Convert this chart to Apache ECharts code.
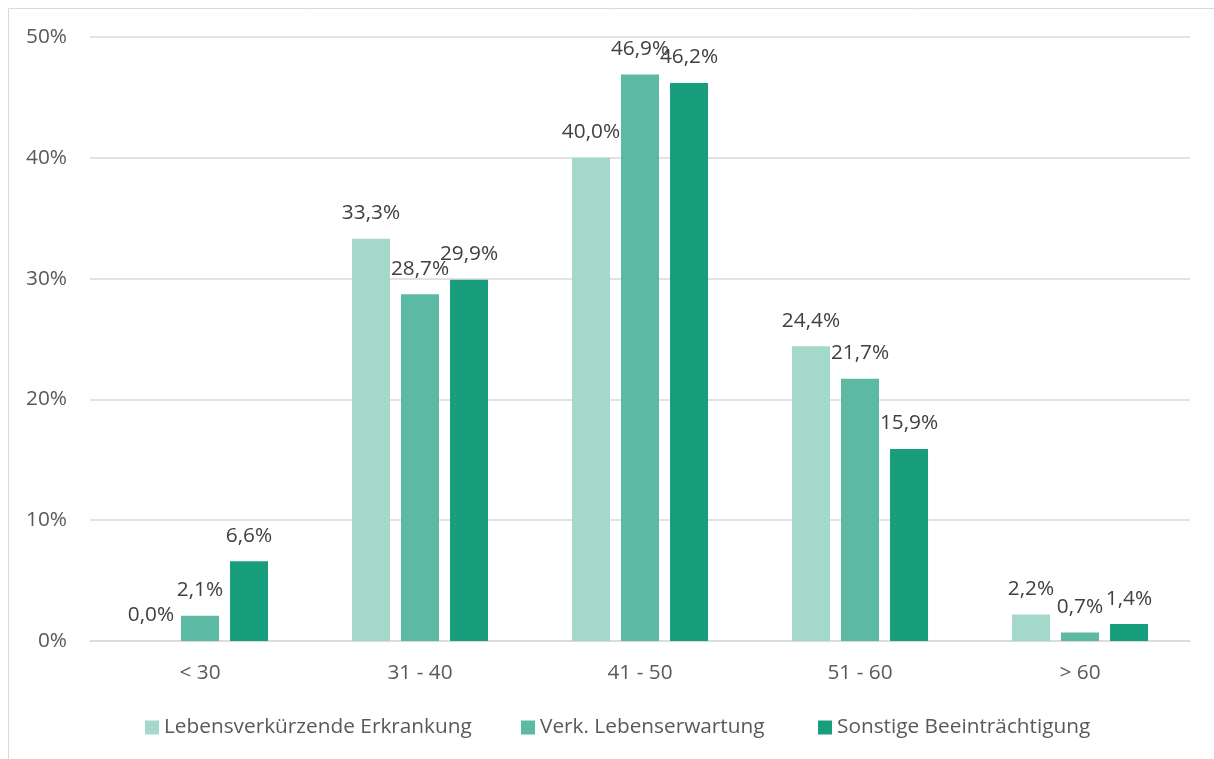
<!DOCTYPE html>
<html>
<head>
<meta charset="utf-8">
<script src="https://cdn.jsdelivr.net/npm/echarts@6/dist/echarts.min.js"></script>
<style>html,body{margin:0;padding:0;background:#fff}#c{width:1214px;height:759px}</style>
</head>
<body>
<div id="c"></div>
<script>
var categories = ['< 30', '31 - 40', '41 - 50', '51 - 60', '> 60'];
var seriesNames = ['Lebensverkürzende Erkrankung', 'Verk. Lebenserwartung', 'Sonstige Beeinträchtigung'];
var lebensverkuerzend = [0.0, 33.3, 40.0, 24.4, 2.2];
var verkLebenserwartung = [2.1, 28.7, 46.9, 21.7, 0.7];
var sonstige = [6.6, 29.9, 46.2, 15.9, 1.4];
var colors = ['#A3D8CB', '#5CB9A3', '#189E7D'];
var legendLeft = [145, 521, 818];
var FONT = 'Open Sans';
var FS = 20.8;

function mk(name, data, color) {
  return {
    name: name, type: 'bar', data: data, barWidth: 38, barGap: '29%',
    itemStyle: { color: color },
    label: {
      show: true, position: 'top', distance: 15,
      fontFamily: FONT, fontSize: FS, color: '#404040',
      formatter: function (p) { return p.value.toFixed(1).replace('.', ',') + '%'; }
    }
  };
}

var legends = seriesNames.map(function (n, i) {
  return {
    top: 717, left: legendLeft[i], itemWidth: 14, itemHeight: 14,
    icon: 'rect', padding: 0,
    textStyle: { fontFamily: FONT, fontSize: FS, color: '#595959' },
    data: [n]
  };
});

var chart = echarts.init(document.getElementById('c'), null, { renderer: 'canvas' });
chart.setOption({
  animation: false,
  textStyle: { fontFamily: FONT },
  graphic: [{
    type: 'rect', shape: { x: 8.5, y: 8.5, width: 1230, height: 800 },
    style: { fill: 'none', stroke: '#D9D9D9', lineWidth: 1 }, silent: true
  }],
  grid: { left: 90, right: 24, top: 37, bottom: 118, containLabel: false },
  legend: legends,
  xAxis: {
    type: 'category', data: categories,
    axisLine: { lineStyle: { color: '#D9D9D9', width: 1.5 } },
    axisTick: { show: false },
    axisLabel: { fontFamily: FONT, fontSize: FS, color: '#595959', margin: 22 }
  },
  yAxis: {
    type: 'value', min: 0, max: 50, interval: 10,
    axisLine: { show: false }, axisTick: { show: false },
    splitLine: { lineStyle: { color: '#D9D9D9', width: 1.5 } },
    axisLabel: { fontFamily: FONT, fontSize: FS, color: '#595959', margin: 23, formatter: '{value}%' }
  },
  series: [
    mk(seriesNames[0], lebensverkuerzend, colors[0]),
    mk(seriesNames[1], verkLebenserwartung, colors[1]),
    mk(seriesNames[2], sonstige, colors[2])
  ]
});
</script>
</body>
</html>
